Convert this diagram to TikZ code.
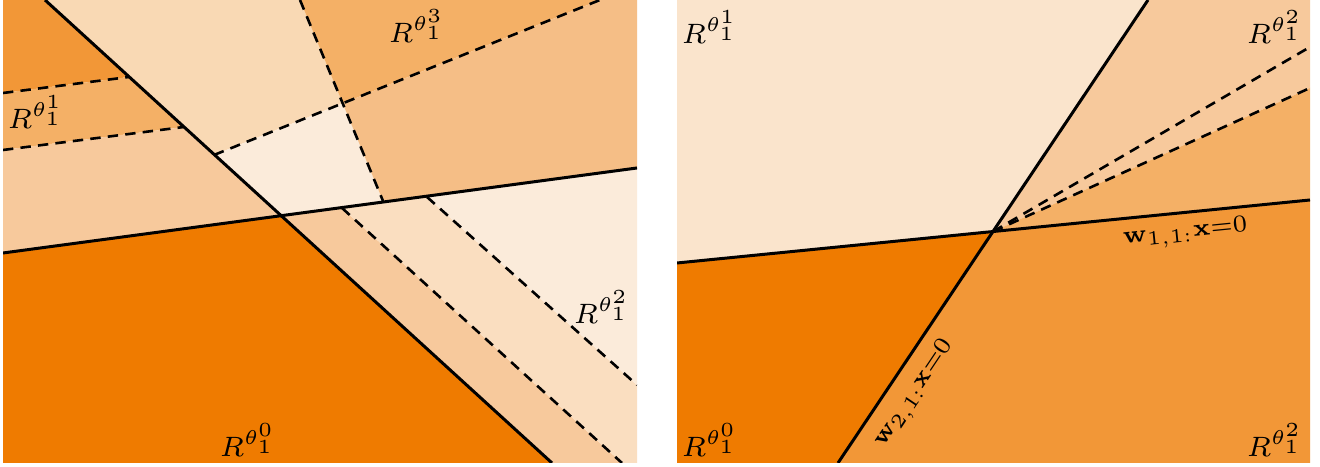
\documentclass[tikz,border=0pt]{standalone}
\usepackage{amsmath,amssymb}
\usepackage{xcolor}
\usetikzlibrary{calc}
\definecolor{Tone0}{HTML}{EF7B00}
\definecolor{Tone1}{HTML}{F29737}
\definecolor{Tone2}{HTML}{F4B066}
\definecolor{Tone3}{HTML}{F5BE86}
\definecolor{Tone4}{HTML}{F7C99C}
\definecolor{Tone5}{HTML}{F9D9B4}
\definecolor{Tone6}{HTML}{FAE4CC}
\definecolor{Tone7}{HTML}{FBEBDA}

\begin{document}
\begin{tikzpicture}[x=0.25pt,y=-0.25pt,
  cut/.style={black,line width=0.75pt},
  half/.style={black,line width=0.65pt,dash pattern=on 2.6pt off 1.8pt},
  region/.style={font=\fontsize{7.5}{9}\selectfont,inner sep=0pt},
  eqn/.style={font=\fontsize{5.8}{7}\selectfont,sloped,below,inner sep=2pt}
]
\useasboundingbox (0,0) rectangle (1320,467);
\fill[white] (0,0) rectangle (1320,467);

% left panel
\begin{scope}
\clip (3,0) rectangle (637,463);
\coordinate (p1t) at (45,0);   \coordinate (p1b) at (552,463);
\coordinate (p2l) at (3,253);  \coordinate (p2r) at (637,168);
\coordinate (o) at (intersection of p1t--p1b and p2l--p2r);
\coordinate (a1) at (3,93);    \coordinate (a2) at (129,77);
\coordinate (b1) at (3,150);   \coordinate (b2) at (184,127);
\coordinate (c1) at (214,155); \coordinate (c2) at (600,0);
\coordinate (d1) at (300,0);   \coordinate (d2) at (383,201);
\coordinate (q) at (intersection of c1--c2 and d1--d2);
\coordinate (e1) at (342,208); \coordinate (e2) at (622,463);
\coordinate (f1) at (427,197); \coordinate (f2) at (637,385);

\fill[Tone0] (p2l) -- (o) -- (p1b) -- (3,463) -- cycle;
\fill[Tone1] (3,0) -- (p1t) -- (a2) -- (a1) -- cycle;
\fill[Tone2] (a1) -- (a2) -- (b2) -- (b1) -- cycle;
\fill[Tone4] (b1) -- (b2) -- (o) -- (p2l) -- cycle;
\fill[Tone5] (p1t) -- (d1) -- (q) -- (c1) -- cycle;
\fill[Tone7] (c1) -- (q) -- (d2) -- (o) -- cycle;
\fill[Tone2] (d1) -- (c2) -- (q) -- cycle;
\fill[Tone3] (q) -- (c2) -- (637,0) -- (p2r) -- (d2) -- cycle;
\fill[Tone4] (o) -- (e1) -- (e2) -- (p1b) -- cycle;
\fill[Tone5!70!Tone7] (e1) -- (f1) -- (f2) -- (637,463) -- (e2) -- cycle;
\fill[Tone7] (f1) -- (p2r) -- (f2) -- cycle;

\draw[half] (a1) -- (a2);
\draw[half] (b1) -- (b2);
\draw[half] (c1) -- (c2);
\draw[half] (d1) -- (d2);
\draw[half] (e1) -- (e2);
\draw[half] (f1) -- (f2);
\draw[cut] (p1t) -- (p1b);
\draw[cut] (p2l) -- (p2r);
\end{scope}

\node[region] (lr1) at (36,112) {$R^{\theta_1^1}$};
\node[region] (lr3) at (417,26) {$R^{\theta_1^3}$};
\node[region] (lr0) at (248,440) {$R^{\theta_1^0}$};
\node[region] (lr2) at (602,307) {$R^{\theta_1^2}$};

% right panel
\begin{scope}
\clip (677,0) rectangle (1310,463);
\coordinate (s1l) at (677,263); \coordinate (s1r) at (1310,200);
\coordinate (s2t) at (1148,0);  \coordinate (s2b) at (838,463);
\coordinate (m) at (intersection of s1l--s1r and s2t--s2b);
\coordinate (g1) at (1310,47);  \coordinate (g2) at (1310,88);

\fill[Tone6] (677,0) -- (s2t) -- (m) -- (s1l) -- cycle;
\fill[Tone4] (s2t) -- (1310,0) -- (g2) -- (m) -- cycle;
\fill[Tone2] (m) -- (g2) -- (s1r) -- cycle;
\fill[Tone0] (s1l) -- (m) -- (s2b) -- (677,463) -- cycle;
\fill[Tone1] (m) -- (s1r) -- (1310,463) -- (s2b) -- cycle;

\draw[half] (m) -- (g1);
\draw[half] (m) -- (g2);
\draw[cut] (s1l) -- (s1r) node[eqn,pos=0.8] (w11) {$\mathbf{w}_{1,1:}\mathbf{x}{=}0$};
\draw[cut] (s2b) -- (s2t) node[eqn,pos=0.18,inner sep=3pt] (w21) {$\mathbf{w}_{2,1:}\mathbf{x}{=}0$};
\end{scope}

\node[region] (rr1) at (710,27) {$R^{\theta_1^1}$};
\node[region] (rr2) at (1275,27) {$R^{\theta_1^2}$};
\node[region] (rr0) at (710,440) {$R^{\theta_1^0}$};
\node[region] (rr4) at (1275,440) {$R^{\theta_1^2}$};
\end{tikzpicture}
\end{document}
